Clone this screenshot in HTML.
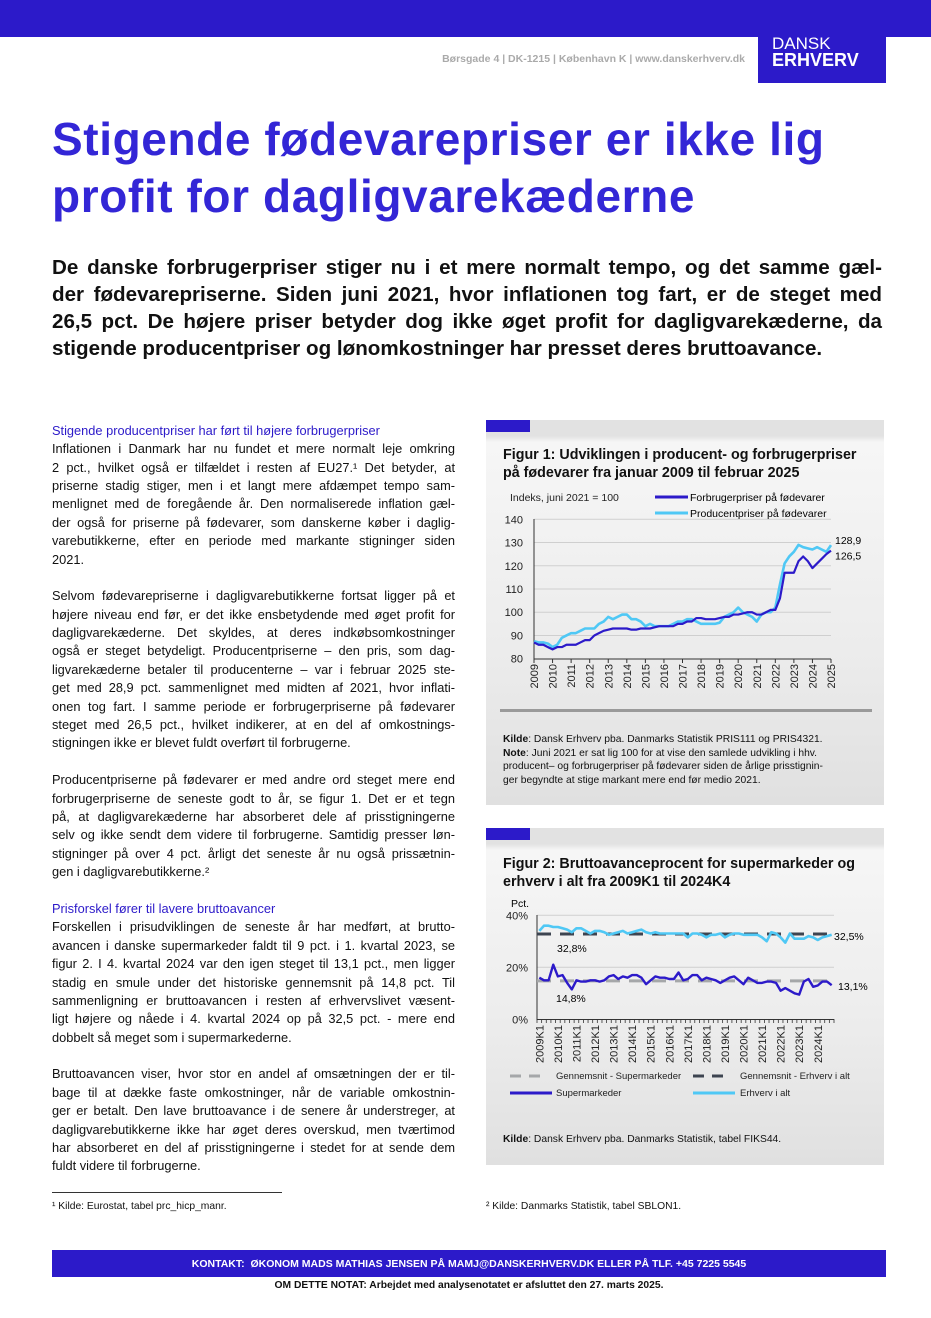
<!DOCTYPE html>
<html><head><meta charset="utf-8">
<style>
*{margin:0;padding:0;box-sizing:border-box}
body{width:931px;height:1318px;position:relative;background:#fff;font-family:"Liberation Sans",sans-serif;color:#111;overflow:hidden}
.abs{position:absolute}
#col{position:absolute;left:52px;top:421.8px;width:403px;font-size:12.8px;line-height:18.4px}
.l{white-space:nowrap;text-align:justify;text-align-last:justify;height:18.4px}
.e{text-align-last:left}
.h{color:#2c1ac9;text-align-last:left}
#sub .l{height:27px}
.box{position:absolute;left:486px;width:398px;background:linear-gradient(#e2e2e2 0,#e2e2e2 16px,#f6f6f6 22px,#ececec 60%,#e0e0e0 100%)}
.tab{position:absolute;left:0;top:0;width:44px;height:12px;background:#2c1ac9}
.ft{font-weight:bold;font-size:14.3px;line-height:18px;position:absolute;left:17px}
svg text{font-family:"Liberation Sans",sans-serif}
</style></head><body>
<div class="abs" style="left:0;top:0;width:931px;height:37px;background:#2c1ac9"></div>
<div class="abs" style="left:758px;top:0;width:128px;height:83px;background:#2c1ac9;color:#fff">
<div style="position:absolute;left:14px;top:36px;font-size:17px;line-height:16px">DANSK</div>
<div style="position:absolute;left:14px;top:52px;font-size:18px;font-weight:bold;line-height:17px">ERHVERV</div></div>
<div class="abs" style="right:186px;top:53px;font-size:10.5px;font-weight:bold;color:#aaa">Børsgade 4 | DK-1215 | København K | www.danskerhverv.dk</div>
<div class="abs" style="left:52px;top:111px;font-size:46px;font-weight:bold;line-height:57px;color:#3326d6;letter-spacing:0.6px">Stigende fødevarepriser er ikke lig<br>profit for dagligvarekæderne</div>
<div id="sub" class="abs" style="left:52px;top:254px;width:830px;font-size:20.6px;line-height:27px;font-weight:bold;color:#111">
<div class="l">De danske forbrugerpriser stiger nu i et mere normalt tempo, og det samme gæl-</div>
<div class="l">der fødevarepriserne. Siden juni 2021, hvor inflationen tog fart, er de steget med</div>
<div class="l">26,5 pct. De højere priser betyder dog ikke øget profit for dagligvarekæderne, da</div>
<div class="l e">stigende producentpriser og lønomkostninger har presset deres bruttoavance.</div></div>

<div id="col">
<div class="l h">Stigende producentpriser har ført til højere forbrugerpriser</div>
<div class="l">Inflationen i Danmark har nu fundet et mere normalt leje omkring</div>
<div class="l">2 pct., hvilket også er tilfældet i resten af EU27.¹ Det betyder, at</div>
<div class="l">priserne stadig stiger, men i et langt mere afdæmpet tempo sam-</div>
<div class="l">menlignet med de foregående år. Den normaliserede inflation gæl-</div>
<div class="l">der også for priserne på fødevarer, som danskerne køber i daglig-</div>
<div class="l">varebutikkerne, efter en periode med markante stigninger siden</div>
<div class="l e">2021.</div><div class="l"></div>
<div class="l">Selvom fødevarepriserne i dagligvarebutikkerne fortsat ligger på et</div>
<div class="l">højere niveau end før, er det ikke ensbetydende med øget profit for</div>
<div class="l">dagligvarekæderne. Det skyldes, at deres indkøbsomkostninger</div>
<div class="l">også er steget betydeligt. Producentpriserne – den pris, som dag-</div>
<div class="l">ligvarekæderne betaler til producenterne – var i februar 2025 ste-</div>
<div class="l">get med 28,9 pct. sammenlignet med midten af 2021, hvor inflati-</div>
<div class="l">onen tog fart. I samme periode er forbrugerpriserne på fødevarer</div>
<div class="l">steget med 26,5 pct., hvilket indikerer, at en del af omkostnings-</div>
<div class="l e">stigningen ikke er blevet fuldt overført til forbrugerne.</div><div class="l"></div>
<div class="l">Producentpriserne på fødevarer er med andre ord steget mere end</div>
<div class="l">forbrugerpriserne de seneste godt to år, se figur 1. Det er et tegn</div>
<div class="l">på, at dagligvarekæderne har absorberet dele af prisstigningerne</div>
<div class="l">selv og ikke sendt dem videre til forbrugerne. Samtidig presser løn-</div>
<div class="l">stigninger på over 4 pct. årligt det seneste år nu også prissætnin-</div>
<div class="l e">gen i dagligvarebutikkerne.²</div><div class="l"></div>
<div class="l h">Prisforskel fører til lavere bruttoavancer</div>
<div class="l">Forskellen i prisudviklingen de seneste år har medført, at brutto-</div>
<div class="l">avancen i danske supermarkeder faldt til 9 pct. i 1. kvartal 2023, se</div>
<div class="l">figur 2. I 4. kvartal 2024 var den igen steget til 13,1 pct., men ligger</div>
<div class="l">stadig en smule under det historiske gennemsnit på 14,8 pct. Til</div>
<div class="l">sammenligning er bruttoavancen i resten af erhvervslivet væsent-</div>
<div class="l">ligt højere og nåede i 4. kvartal 2024 op på 32,5 pct. - mere end</div>
<div class="l e">dobbelt så meget som i supermarkederne.</div><div class="l"></div>
<div class="l">Bruttoavancen viser, hvor stor en andel af omsætningen der er til-</div>
<div class="l">bage til at dække faste omkostninger, når de variable omkostnin-</div>
<div class="l">ger er betalt. Den lave bruttoavance i de senere år understreger, at</div>
<div class="l">dagligvarebutikkerne ikke har øget deres overskud, men tværtimod</div>
<div class="l">har absorberet en del af prisstigningerne i stedet for at sende dem</div>
<div class="l e">fuldt videre til forbrugerne.</div>
</div>

<div class="box" style="top:420px;height:385px">
<div class="tab"></div>
<div class="ft" style="top:26px">Figur 1: Udviklingen i producent- og forbrugerpriser<br>på fødevarer fra januar 2009 til februar 2025</div>
<div style="position:absolute;left:14px;top:289px;width:372px;height:3px;background:#9a9a9a"></div>
<div style="position:absolute;left:17px;top:313px;font-size:10.3px;line-height:13.7px"><b>Kilde</b>: Dansk Erhverv pba. Danmarks Statistik PRIS111 og PRIS4321.<br><b>Note</b>: Juni 2021 er sat lig 100 for at vise den samlede udvikling i hhv.<br>producent– og forbrugerpriser på fødevarer siden de årlige prisstignin-<br>ger begyndte at stige markant mere end før medio 2021.</div>
</div>
<div class="box" style="top:828px;height:337px">
<div class="tab"></div>
<div class="ft" style="top:27px">Figur 2: Bruttoavanceprocent for supermarkeder og<br>erhverv i alt fra 2009K1 til 2024K4</div>
<div style="position:absolute;left:17px;top:306px;font-size:10.3px"><b>Kilde</b>: Dansk Erhverv pba. Danmarks Statistik, tabel FIKS44.</div>
</div>

<svg id="svg" class="abs" style="left:0;top:0" width="931" height="1318"></svg>

<div class="abs" style="left:52px;top:1192px;width:230px;border-top:1px solid #333"></div>
<div class="abs" style="left:52px;top:1201px;font-size:10.3px">¹ Kilde: Eurostat, tabel prc_hicp_manr.</div>
<div class="abs" style="left:486px;top:1201px;font-size:10.3px">² Kilde: Danmarks Statistik, tabel SBLON1.</div>
<div class="abs" style="left:52px;top:1250px;width:834px;height:27px;background:#2c1ac9;color:#fff;font-size:10.5px;font-weight:bold;text-align:center;line-height:28px">KONTAKT:&nbsp; ØKONOM MADS MATHIAS JENSEN PÅ MAMJ@DANSKERHVERV.DK ELLER PÅ TLF. +45 7225 5545</div>
<div class="abs" style="left:52px;top:1280px;width:834px;text-align:center;font-size:10.3px;font-weight:bold">OM DETTE NOTAT: Arbejdet med analysenotatet er afsluttet den 27. marts 2025.</div>

<script>
// Figure 1 data (quarterly estimates, 2009Q1..2025Q1)
const f1Years=[2009,2010,2011,2012,2013,2014,2015,2016,2017,2018,2019,2020,2021,2022,2023,2024,2025];
const f1Ticks=[80,90,100,110,120,130,140];
const f1Consumer=[87,86,86,85,84,85,85,86,86,86,87,88,88,90,91,92,92.5,93,93,93,93,92.5,92.5,93,93,93,93.5,94,94,94,94,95,95,96,96,97.5,97.5,97,97,97,97.5,98,98,99,99,99.5,100,100,99,99,100,101,101,106,117,117,117,122,124,122,119,121,123,125,126.5];
const f1Producer=[87.5,87,87,86.5,85,86,89,90,91,91,92,93,93,93,95,96,98,97,98,99,99,97,97,96,94,95,94,94,94,94,95,96,96,97,97,96,95,95,95,95,95.5,98,99,100,102,100,99,98,96,99,100,100,102,112,121,124,126,129,128,127.5,127,128,127,126,128.9];
// Figure 2 data (2009K1..2024K4)
const f2Years=[2009,2010,2011,2012,2013,2014,2015,2016,2017,2018,2019,2020,2021,2022,2023,2024];
const f2Ticks=[0,20,40];
const f2Super=[16,15,15,21,16.5,17,14,11.5,15,14.5,14.5,15,15,14.5,15,16.5,17,15.5,16.5,16,17,17,16,13.5,15,16.5,16,16,15.5,15.5,18,15,15.5,17,17,15,16,15.5,15,14,15,16,16.5,15,13.5,16,15,14,14,14.5,14.5,14,11,12,11,10,9.5,14.5,15.5,12.5,13,14.5,14.5,13.1];
const f2Total=[34,36,36,35.5,35.5,35,34.5,33.5,35,35,34,33,34,34,33.5,32.5,33,33.5,34,33,33.5,34,34.5,33.5,33,33.5,33,33,33,33,33,33,31.5,33,33,32.5,31.5,32.5,32.5,33,31.5,32.5,33,33,32.5,32.5,32.5,32.5,31.5,30,33.5,33,31.5,29.5,33,31,31,31,32,31.5,30.5,31.5,32,32.5];
const f2AvgSuper=14.8, f2AvgTotal=32.8;

const NS="http://www.w3.org/2000/svg", svg=document.getElementById('svg');
function mk(tag,attrs,parent){const e=document.createElementNS(NS,tag);for(const k in attrs)e.setAttribute(k,attrs[k]);(parent||svg).appendChild(e);return e;}
function txt(s,attrs){const e=mk('text',attrs);e.textContent=s;return e;}

// ---- Figure 1
const x1=i=>534+(831-534)*i/64, y1=v=>658.7-(v-80)*(658.7-519.3)/60;
f1Ticks.forEach(t=>{
  if(t>80){const g=mk('line',{x1:534,x2:831,y1:y1(t),y2:y1(t),stroke:'#cfcfcf','stroke-width':1});
  
  }
  const l=txt(t,{x:523,y:y1(t)+4,'font-size':11,'text-anchor':'end',fill:'#222'});
  
  
});
mk('line',{x1:534,x2:534,y1:519,y2:659,stroke:'#333'});
mk('line',{x1:534,x2:831,y1:659,y2:659,stroke:'#333'});
f1Years.forEach((yr,k)=>{
  const x=x1(k*4);
  mk('line',{x1:x,x2:x,y1:659,y2:663,stroke:'#333'});
  const l=txt(yr,{x:0,y:0,'font-size':11,'text-anchor':'end',transform:`translate(${x+4},${664}) rotate(-90)`,fill:'#222'});
  
  
});
function line(arr,xf,yf,col,w,name){
  const p=mk('polyline',{points:arr.map((v,i)=>xf(i)+','+yf(v)).join(' '),fill:'none',stroke:col,'stroke-width':w,'stroke-linejoin':'round'});
  
  
}
line(f1Producer,x1,y1,'#4fc8f5',2.6,'producer-price-line');
line(f1Consumer,x1,y1,'#2c1ac9',2.2,'consumer-price-line');
txt(String(f1Producer[f1Producer.length-1]).replace('.',','),{x:835,y:y1(f1Producer[64])-1,'font-size':10.5});
txt(String(f1Consumer[f1Consumer.length-1]).replace('.',','),{x:835,y:y1(f1Consumer[64])+9,'font-size':10.5});
txt('Indeks, juni 2021 = 100',{x:510,y:501,'font-size':10.5,fill:'#222'});
mk('line',{x1:655,x2:688,y1:497,y2:497,stroke:'#2c1ac9','stroke-width':3});
mk('line',{x1:655,x2:688,y1:513,y2:513,stroke:'#4fc8f5','stroke-width':3});
const lg1=txt('Forbrugerpriser på fødevarer',{x:690,y:501,'font-size':10.5});


const lg2=txt('Producentpriser på fødevarer',{x:690,y:517,'font-size':10.5});



// ---- Figure 2
const x2=i=>537+(834-537)*(i+0.5)/64, y2=v=>1019.3-v*(1019.3-915.3)/40;
f2Ticks.forEach(t=>{
  if(t>0){const g=mk('line',{x1:537,x2:834,y1:y2(t),y2:y2(t),stroke:'#cfcfcf'});
  
  }
  const l=txt(t+'%',{x:528,y:y2(t)+4,'font-size':11,'text-anchor':'end',fill:'#222'});
  
  
});
txt('Pct.',{x:511,y:907,'font-size':10.5});
mk('line',{x1:537,x2:537,y1:915,y2:1020,stroke:'#333'});
mk('line',{x1:537,x2:834,y1:1019.5,y2:1019.5,stroke:'#333'});
for(let i=0;i<=64;i++){const x=537+(834-537)*i/64;mk('line',{x1:x,x2:x,y1:1019,y2:1023,stroke:'#333','stroke-width':0.8});}
f2Years.forEach((yr,k)=>{
  const x=x2(k*4);
  const l=txt(yr+'K1',{x:0,y:0,'font-size':11,'text-anchor':'end',transform:`translate(${x+4},${1025}) rotate(-90)`,fill:'#222'});
  
  
});
const a1=mk('line',{x1:537,x2:834,y1:y2(f2AvgSuper),y2:y2(f2AvgSuper),stroke:'#a5a7a9','stroke-width':3,'stroke-dasharray':'14 9'});


const a2=mk('line',{x1:537,x2:834,y1:y2(f2AvgTotal),y2:y2(f2AvgTotal),stroke:'#3d4450','stroke-width':3,'stroke-dasharray':'14 9'});


line(f2Total,x2,y2,'#4fc8f5',2.6,'total-business-line');
line(f2Super,x2,y2,'#2c1ac9',2.4,'supermarket-line');
txt(String(f2AvgTotal).replace('.',',')+'%',{x:557,y:952,'font-size':10.5});
txt(String(f2AvgSuper).replace('.',',')+'%',{x:556,y:1002,'font-size':10.5});
txt(String(f2Total[63]).replace('.',',')+'%',{x:834,y:940,'font-size':10.5});
txt(String(f2Super[63]).replace('.',',')+'%',{x:838,y:990,'font-size':10.5});
mk('line',{x1:510,x2:545,y1:1076,y2:1076,stroke:'#a5a7a9','stroke-width':3,'stroke-dasharray':'11 8'});
mk('line',{x1:693,x2:728,y1:1076,y2:1076,stroke:'#3d4450','stroke-width':3,'stroke-dasharray':'11 8'});
mk('line',{x1:510,x2:552,y1:1093,y2:1093,stroke:'#2c1ac9','stroke-width':3});
mk('line',{x1:693,x2:735,y1:1093,y2:1093,stroke:'#4fc8f5','stroke-width':3});
[['Gennemsnit - Supermarkeder',556,1079],['Gennemsnit - Erhverv i alt',740,1079],['Supermarkeder',556,1096],['Erhverv i alt',740,1096]].forEach(d=>{
  const l=txt(d[0],{x:d[1],y:d[2],'font-size':9.5,fill:'#222'});
  
  
});
</script>
</body></html>
